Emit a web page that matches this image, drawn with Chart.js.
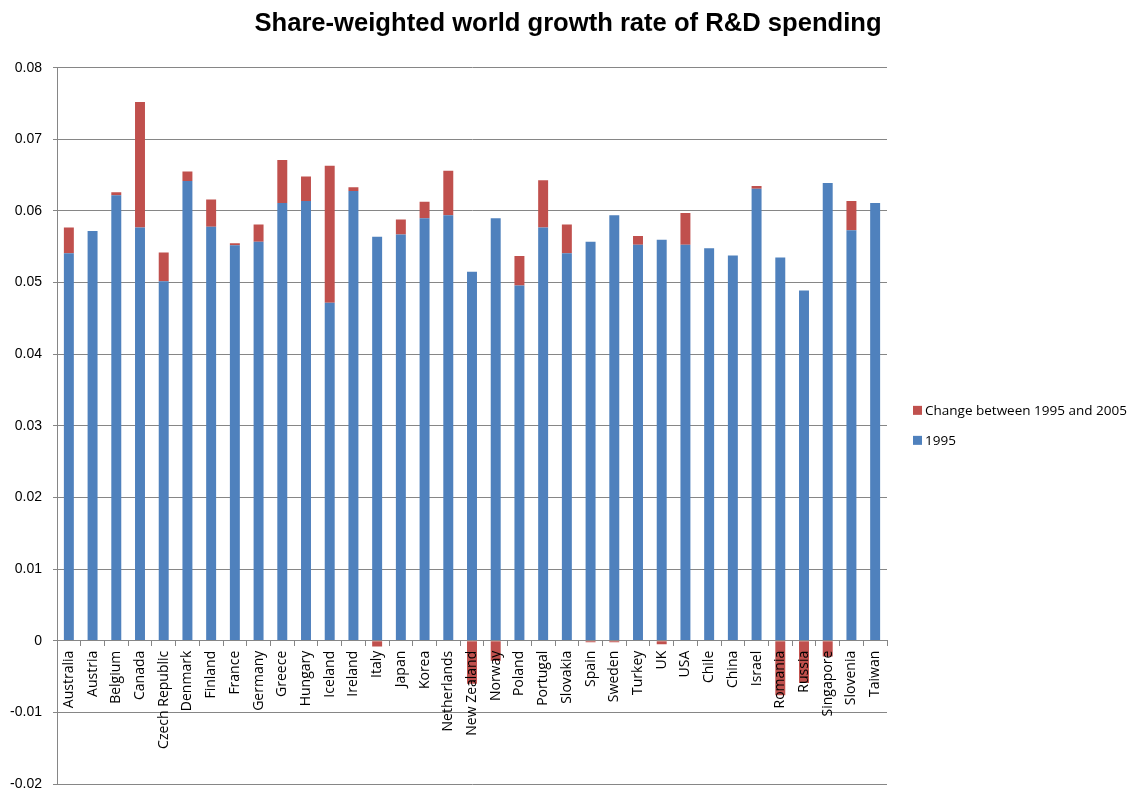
<!DOCTYPE html>
<html>
<head>
<meta charset="utf-8">
<title>Share-weighted world growth rate of R&amp;D spending</title>
<script src="https://cdn.jsdelivr.net/npm/chart.js@4/dist/chart.umd.min.js"></script>
<style>
  body { margin: 0; background: #fff; }
  #wrap { width: 1136px; height: 791px; position: relative; }
</style>
</head>
<body>
<div id="wrap"><canvas id="rdChart"></canvas></div>
<script>
// values
const countries = ["Australia", "Austria", "Belgium", "Canada", "Czech Republic", "Denmark", "Finland",
    "France", "Germany", "Greece", "Hungary", "Iceland", "Ireland", "Italy", "Japan", "Korea",
    "Netherlands", "New Zealand", "Norway", "Poland", "Portugal", "Slovakia", "Spain", "Sweden",
    "Turkey", "UK", "USA", "Chile", "China", "Israel", "Romania", "Russia", "Singapore", "Slovenia", "Taiwan"];

const rate1995 = [0.0541, 0.0572, 0.0622, 0.0577, 0.0502, 0.0642, 0.0578, 0.0552, 0.0557, 0.0611,
    0.0614, 0.0472, 0.0628, 0.0564, 0.0567, 0.0590, 0.0594, 0.0515, 0.0590, 0.0496, 0.0577, 0.0541,
    0.0557, 0.0594, 0.0553, 0.0560, 0.0553, 0.0548, 0.0538, 0.0631, 0.0535, 0.0489, 0.0639, 0.0573, 0.0611];

const change95to05 = [0.0036, 0, 0.0004, 0.0175, 0.0040, 0.0013, 0.0038, 0.0003, 0.0024, 0.0060,
    0.0034, 0.0191, 0.0005, -0.0008, 0.0021, 0.0023, 0.0062, -0.0060, -0.0028, 0.0041, 0.0066, 0.0040,
    -0.0002, -0.0002, 0.0012, -0.0005, 0.0044, 0, 0, 0.0004, -0.0076, -0.0059, -0.0022, 0.0041, 0];

const yTicks = { min: -0.02, max: 0.08, step: 0.01 };

const gridGrey = "#868686";

// legend drawn by hand in the empty strip right of the plot (Excel style: square + text)
const sideLegend = {
    id: "sideLegend",
    afterDraw(chart) {
        const ctx = chart.ctx;
        const area = chart.chartArea;
        const mid = (area.top + area.bottom) / 2;
        const items = chart.data.datasets.slice().reverse();
        ctx.save();
        ctx.font = "13.5px 'Open Sans'";
        ctx.textBaseline = "middle";
        items.forEach((ds, i) => {
            const y = mid - 15 + i * 30;
            ctx.fillStyle = ds.backgroundColor;
            ctx.fillRect(area.right + 26, y - 5, 9, 9);
            ctx.fillStyle = "#000";
            ctx.fillText(ds.label, area.right + 38, y);
        });
        ctx.restore();
    }
};

// no extra label padding, plot edges are set by hand
const noEdgePadding = (scale) => {
    scale.paddingTop = 0;
    scale.paddingBottom = 0;
    scale.paddingLeft = 0;
    scale.paddingRight = 0;
};

new Chart(document.getElementById("rdChart"), {
    type: "bar",
    data: {
        labels: countries,
        datasets: [
            { label: "1995", data: rate1995, backgroundColor: "#4F81BD" },
            { label: "Change between 1995 and 2005", data: change95to05, backgroundColor: "#C0504D" }
        ]
    },
    options: {
        responsive: true,
        maintainAspectRatio: false,
        animation: false,
        layout: { padding: { left: 0, right: 0, top: 0, bottom: 7 } },
        datasets: { bar: { barPercentage: 0.42, categoryPercentage: 1 } },
        plugins: {
            legend: { display: false },
            tooltip: { enabled: false },
            title: {
                display: true,
                text: "Share-weighted world growth rate of R&D spending",
                color: "#000",
                font: { family: "'Liberation Sans', Arial", size: 25.6, weight: "bold" },
                padding: { top: 9, bottom: 28 }
            }
        },
        scales: {
            x: {
                stacked: true,
                position: { y: 0 },
                afterFit: noEdgePadding,
                grid: { display: true, drawOnChartArea: false, drawTicks: true, tickLength: 5, color: gridGrey },
                border: { display: true, color: gridGrey, z: 1 },
                ticks: {
                    z: 1, // labels sit on top of the negative bars
                    autoSkip: false, maxRotation: 90, minRotation: 90, padding: 5,
                    color: "#000", font: { family: "'Open Sans'", size: 14 }
                }
            },
            y: {
                stacked: true,
                min: yTicks.min,
                max: yTicks.max,
                afterFit: (scale) => { noEdgePadding(scale); scale.width = 57; },
                grid: { color: gridGrey, tickLength: 4 },
                border: { color: gridGrey },
                ticks: {
                    stepSize: yTicks.step,
                    padding: 11,
                    color: "#000",
                    font: { family: "'Liberation Sans', Arial", size: 14 },
                    callback: (v) => Math.abs(v) < 1e-9 ? "0" : v.toFixed(2)
                }
            },
            // empty axis on the right, only keeps room for the legend
            legendRoom: {
                type: "linear",
                position: "right",
                grid: { display: false, drawTicks: false },
                border: { display: false },
                ticks: { display: false },
                afterFit: (scale) => { noEdgePadding(scale); scale.width = 249; }
            }
        }
    },
    plugins: [sideLegend]
});
</script>
</body>
</html>
